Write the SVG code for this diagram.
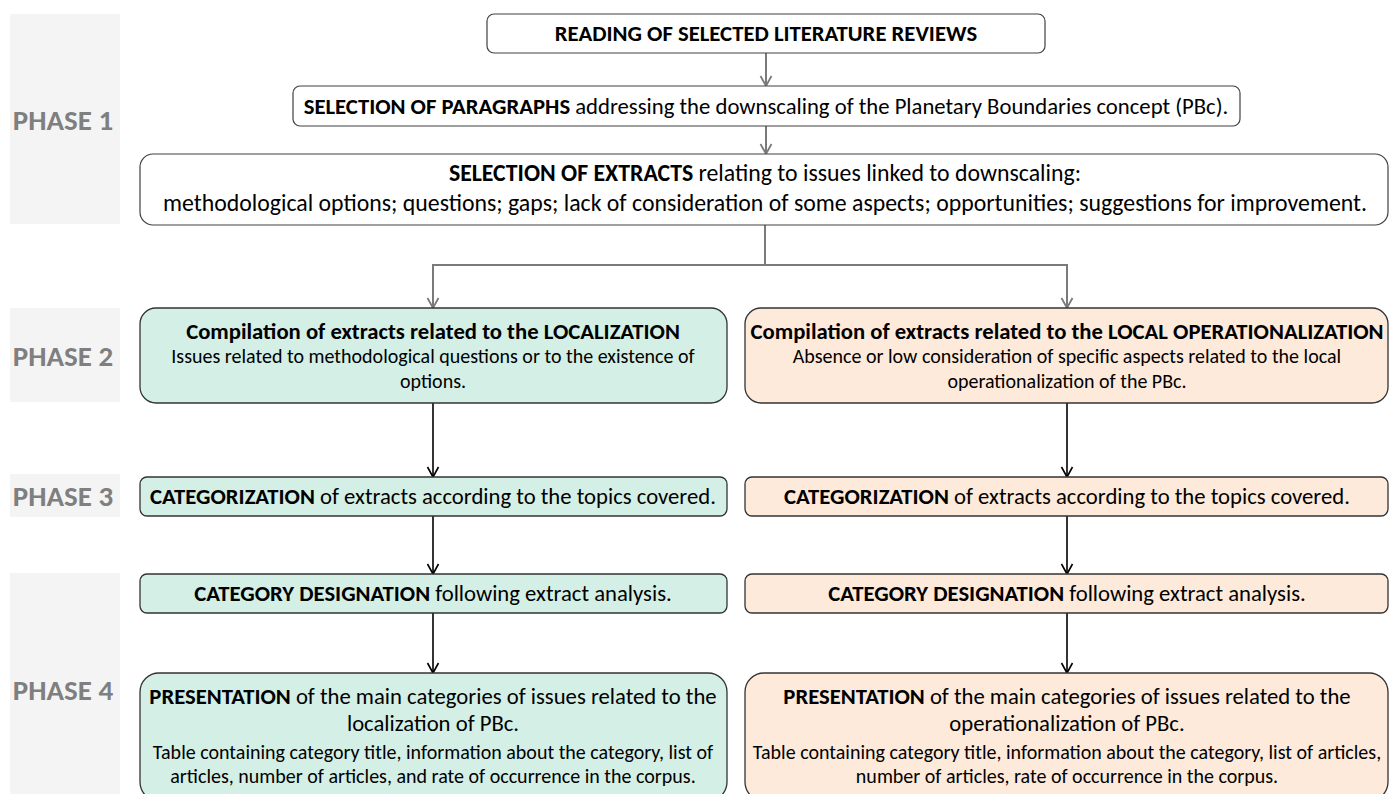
<svg xmlns="http://www.w3.org/2000/svg" width="1397" height="794" viewBox="0 0 1397 794">
  <style>
    text { font-family: Carlito, "Liberation Sans", Arial, sans-serif; fill: #000; }
    .ph { fill: #f4f4f4; }
    .phtxt { font-size: 29px; font-weight: bold; fill: #7f7f7f; text-anchor: middle; }
    .wbox { fill: #fff; stroke: #404040; stroke-width: 1.2; }
    .mint { fill: #d4efe6; stroke: #333; stroke-width: 1.3; }
    .peach { fill: #fdeadb; stroke: #333; stroke-width: 1.3; }
    .t { font-size: 22.7px; text-anchor: middle; }
    .l { font-size: 23.8px; text-anchor: middle; }
    .s { font-size: 20px; text-anchor: middle; }
    .b { font-weight: bold; }
    .cg { fill: none; stroke: #7a7a7a; stroke-width: 2; }
    .ck { fill: none; stroke: #000; stroke-width: 1.6; }
  </style>
  <defs>
    <marker id="ag" markerUnits="userSpaceOnUse" markerWidth="14" markerHeight="14" viewBox="0 0 14 14" refX="12" refY="7" orient="auto">
      <path d="M2,1.5 L12,7 L2,12.5" fill="none" stroke="#7a7a7a" stroke-width="1.8"/>
    </marker>
    <marker id="ak" markerUnits="userSpaceOnUse" markerWidth="14" markerHeight="14" viewBox="0 0 14 14" refX="12" refY="7" orient="auto">
      <path d="M2,1.5 L12,7 L2,12.5" fill="none" stroke="#000" stroke-width="1.6"/>
    </marker>
  </defs>

  <g id="phase-labels">
    <g id="phase1"><rect class="ph" x="10" y="14" width="110" height="210"/><text class="phtxt" x="63" y="130">PHASE 1</text></g>
    <g id="phase2"><rect class="ph" x="10" y="308" width="110" height="94"/><text class="phtxt" x="63" y="366">PHASE 2</text></g>
    <g id="phase3"><rect class="ph" x="10" y="474" width="110" height="43"/><text class="phtxt" x="63" y="506">PHASE 3</text></g>
    <g id="phase4"><rect class="ph" x="10" y="573" width="110" height="221"/><text class="phtxt" x="63" y="700">PHASE 4</text></g>
  </g>

  <g id="connectors">
    <line class="cg" x1="766" y1="53" x2="766" y2="86" marker-end="url(#ag)"/>
    <line class="cg" x1="766" y1="126" x2="766" y2="154" marker-end="url(#ag)"/>
    <polyline class="cg" points="765,225 765,265 433,265 433,308" marker-end="url(#ag)"/>
    <polyline class="cg" points="765,265 1067,265 1067,308" marker-end="url(#ag)"/>
    <line class="ck" x1="433" y1="403" x2="433" y2="477" marker-end="url(#ak)"/>
    <line class="ck" x1="1067" y1="403" x2="1067" y2="477" marker-end="url(#ak)"/>
    <line class="ck" x1="433" y1="516" x2="433" y2="574" marker-end="url(#ak)"/>
    <line class="ck" x1="1067" y1="516" x2="1067" y2="574" marker-end="url(#ak)"/>
    <line class="ck" x1="433" y1="613" x2="433" y2="673" marker-end="url(#ak)"/>
    <line class="ck" x1="1067" y1="613" x2="1067" y2="673" marker-end="url(#ak)"/>
  </g>

  <g id="reading">
    <rect class="wbox" x="487" y="14" width="558" height="39" rx="7"/>
    <text class="t b" x="766" y="41">READING OF SELECTED LITERATURE REVIEWS</text>
  </g>

  <g id="paragraphs">
    <rect class="wbox" x="293" y="86" width="947" height="40" rx="7"/>
    <text class="t" x="766" y="114"><tspan class="b">SELECTION OF PARAGRAPHS</tspan> addressing the downscaling of the Planetary Boundaries concept (PBc).</text>
  </g>

  <g id="extracts">
    <rect class="wbox" x="140" y="154" width="1248" height="71" rx="13"/>
    <text class="l" x="765" y="181"><tspan class="b">SELECTION OF EXTRACTS</tspan> relating to issues linked to downscaling:</text>
    <text class="l" x="765" y="211">methodological options; questions; gaps; lack of consideration of some aspects; opportunities; suggestions for improvement.</text>
  </g>

  <g id="compilation-localization">
    <rect class="mint" x="140" y="308" width="587" height="95" rx="16"/>
    <text class="t b" x="433" y="339">Compilation of extracts related to the LOCALIZATION</text>
    <text class="s" x="433" y="363">Issues related to methodological questions or to the existence of</text>
    <text class="s" x="433" y="388">options.</text>
  </g>

  <g id="compilation-operationalization">
    <rect class="peach" x="745" y="308" width="643" height="95" rx="16"/>
    <text class="t b" x="1067" y="339">Compilation of extracts related to the LOCAL OPERATIONALIZATION</text>
    <text class="s" x="1067" y="363">Absence or low consideration of specific aspects related to the local</text>
    <text class="s" x="1067" y="388">operationalization of the PBc.</text>
  </g>

  <g id="categorization-left">
    <rect class="mint" x="140" y="477" width="587" height="39" rx="7"/>
    <text class="t" x="433" y="504"><tspan class="b">CATEGORIZATION</tspan> of extracts according to the topics covered.</text>
  </g>

  <g id="categorization-right">
    <rect class="peach" x="745" y="477" width="643" height="39" rx="7"/>
    <text class="t" x="1067" y="504"><tspan class="b">CATEGORIZATION</tspan> of extracts according to the topics covered.</text>
  </g>

  <g id="designation-left">
    <rect class="mint" x="140" y="574" width="587" height="39" rx="7"/>
    <text class="t" x="433" y="601"><tspan class="b">CATEGORY DESIGNATION</tspan> following extract analysis.</text>
  </g>

  <g id="designation-right">
    <rect class="peach" x="745" y="574" width="643" height="39" rx="7"/>
    <text class="t" x="1067" y="601"><tspan class="b">CATEGORY DESIGNATION</tspan> following extract analysis.</text>
  </g>

  <g id="presentation-left">
    <rect class="mint" x="140" y="673" width="587" height="128" rx="19"/>
    <text class="t" x="433" y="704"><tspan class="b">PRESENTATION</tspan> of the main categories of issues related to the</text>
    <text class="t" x="433" y="731">localization of PBc.</text>
    <text class="s" x="433" y="759">Table containing category title, information about the category, list of</text>
    <text class="s" x="433" y="783">articles, number of articles, and rate of occurrence in the corpus.</text>
  </g>

  <g id="presentation-right">
    <rect class="peach" x="745" y="673" width="643" height="128" rx="19"/>
    <text class="t" x="1067" y="704"><tspan class="b">PRESENTATION</tspan> of the main categories of issues related to the</text>
    <text class="t" x="1067" y="731">operationalization of PBc.</text>
    <text class="s" x="1067" y="759">Table containing category title, information about the category, list of articles,</text>
    <text class="s" x="1067" y="783">number of articles, rate of occurrence in the corpus.</text>
  </g>
</svg>
